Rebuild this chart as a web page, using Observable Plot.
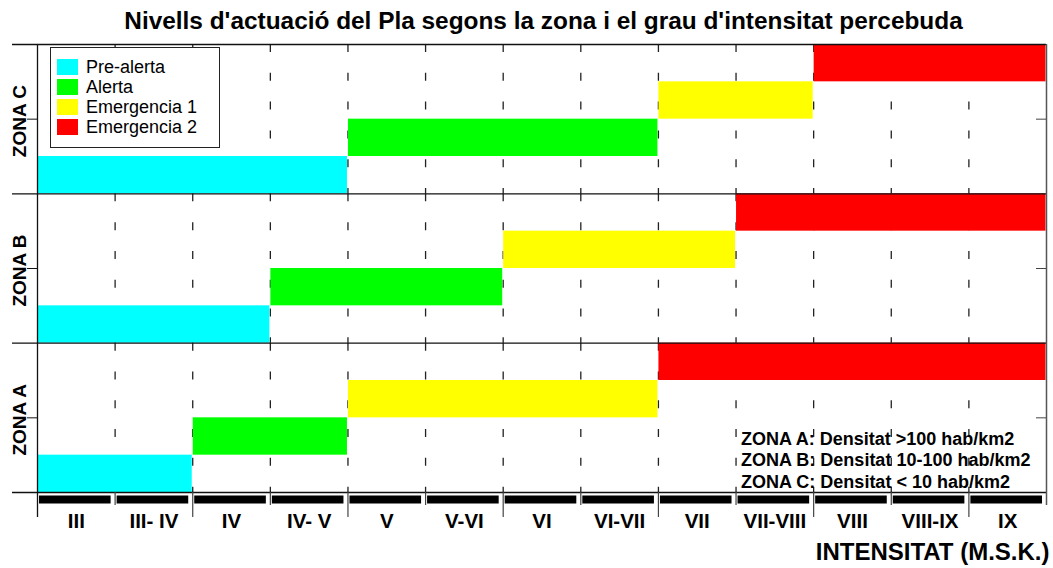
<!DOCTYPE html>
<html>
<head>
<meta charset="utf-8">
<script src="https://cdn.jsdelivr.net/npm/d3@7"></script>
<script src="https://cdn.jsdelivr.net/npm/@observablehq/plot@0.6"></script>
<style>
  html, body { margin: 0; padding: 0; background: #fff; }
  body { width: 1053px; height: 568px; position: relative; overflow: hidden; font-family: "Liberation Sans", Arial, sans-serif; }
  #title { height: 36px; box-sizing: border-box; padding-top: 6px; line-height: 30px; font-size: 24.4px; font-weight: bold; text-align: center; padding-left: 34px; color: #000; white-space: nowrap; }
  #legend { position: absolute; left: 50px; top: 47px; width: 170px; height: 101px; box-sizing: border-box; border: 1px solid #222; background: #fff; padding: 9px 0 0 6px; }
  .row { display: flex; align-items: center; height: 20px; font-size: 18px; color: #000; }
  .sw { width: 21px; height: 16px; margin-right: 8px; }
</style>
</head>
<body>
<div id="title">Nivells d'actuació del Pla segons la zona i el grau d'intensitat percebuda</div>
<div id="chart"></div>
<div id="legend"></div>
<script>
// ---- data ----
const intensities = ["III","III- IV","IV","IV- V","V","V-VI","VI","VI-VII","VII","VII-VIII","VIII","VIII-IX","IX"];
const zones = ["ZONA A","ZONA B","ZONA C"];
const levels = ["Pre-alerta","Alerta","Emergencia 1","Emergencia 2"];
const levelColors = ["#00ffff","#00ff00","#ffff00","#ff0000"];
// intensity at which each level starts, per zone
const zoneAStarts = ["III","IV","V","VII"];
const zoneBStarts = ["III","IV- V","VI","VII-VIII"];
const zoneCStarts = ["III","V","VII","VIII"];
const zoneStarts = [zoneAStarts, zoneBStarts, zoneCStarts];
const densityNotes = ["ZONA A: Densitat >100 hab/km2","ZONA B: Densitat 10-100 hab/km2","ZONA C: Densitat < 10 hab/km2"];
const xTitle = "INTENSITAT (M.S.K.)";

// ---- derived tables ----
const nCols = intensities.length;
const nLev = levels.length;
const bars = [];
zones.forEach((z, zi) => {
  const s = zoneStarts[zi].map(l => intensities.indexOf(l));
  levels.forEach((lev, k) => {
    bars.push({zone: z, level: lev, x1: s[k], x2: k + 1 < nLev ? s[k + 1] : nCols, y1: zi * nLev + k, y2: zi * nLev + k + 1});
  });
});
const boundaries = d3.range(0, nCols + 1);
const grid = [];
zones.forEach((z, zi) => {
  boundaries.slice(1, -1).forEach(b => grid.push({b, top: (zi + 1) * nLev, bottom: zi * nLev}));
});
const zoneEdges = d3.range(0, zones.length + 1).map(i => i * nLev);
const zoneMids = zones.map((z, i) => i * nLev + nLev / 2);

const font = "Liberation Sans, Arial, sans-serif";
const plot = Plot.plot({
  width: 1053,
  height: 532,
  marginTop: 8,
  marginBottom: 76,
  marginLeft: 37,
  marginRight: 7,
  style: {fontFamily: font, background: "transparent", overflow: "visible"},
  x: {domain: [0, nCols], axis: null},
  y: {domain: [0, zones.length * nLev], axis: null},
  color: {domain: levels, range: levelColors},
  marks: [
    Plot.ruleX(grid, {x: "b", y1: "top", y2: "bottom", stroke: "#222", strokeWidth: 1.3, strokeDasharray: "8,20.8"}),
    Plot.rect(bars, {x1: "x1", x2: "x2", y1: "y1", y2: "y2", fill: "level", insetLeft: 0.5, insetRight: 0.5}),
    Plot.ruleY(zoneEdges, {stroke: "#111", strokeWidth: 1.3, insetLeft: -25}),
    Plot.ruleX([0], {stroke: "#111", strokeWidth: 1.3, insetBottom: -25}),
    Plot.ruleX([nCols], {stroke: "#555", strokeWidth: 1.5, insetBottom: -13}),
    Plot.ruleX(boundaries.filter(b => b > 0 && b < nCols && b % 2 === 0), {y1: () => 0, y2: () => 0, stroke: "#444", strokeWidth: 1.2, insetBottom: -25}),
    Plot.ruleX(boundaries.filter(b => b > 0 && b < nCols && b % 2 === 1), {y1: () => 0, y2: () => 0, stroke: "#444", strokeWidth: 1.2, insetBottom: -13}),
    Plot.ruleY(zoneMids, {x1: () => 0, x2: () => 0, insetLeft: -10, stroke: "#111"}),
    Plot.ruleY(zoneMids, {x1: () => nCols, x2: () => nCols, insetLeft: -10, stroke: "#444"}),
    Plot.ruleY(intensities, {x1: (d, i) => i, x2: (d, i) => i + 1, y: () => 0, dy: 7, strokeWidth: 8, stroke: "#000", insetLeft: 2, insetRight: 4}),
    Plot.text(intensities, {x: (d, i) => i + 0.5, y: () => 0, text: d => d, dy: 29, fontSize: 20.5, fontWeight: "bold", fill: "#000"}),
    Plot.text(zones, {x: () => 0, y: (d, i) => zoneMids[i], text: d => d, rotate: -90, dx: -18, dy: 2, fontSize: 19, fontWeight: "bold", fill: "#000"}),
    Plot.text([densityNotes.join("\n")], {x: () => 9, y: () => 0, text: d => d, textAnchor: "start", lineAnchor: "bottom", lineHeight: 1.18, dx: 5, dy: -5, fontSize: 18, fontWeight: "bold", fill: "#000"}),
    Plot.text([xTitle], {x: () => nCols, y: () => 0, text: d => d, textAnchor: "end", dx: 3, dy: 60, fontSize: 24, fontWeight: "bold", fill: "#000"})
  ]
});
document.getElementById("chart").appendChild(plot);

// legend
const lg = document.getElementById("legend");
levels.forEach((l, i) => {
  const row = document.createElement("div");
  row.className = "row";
  const sw = document.createElement("div");
  sw.className = "sw";
  sw.style.background = levelColors[i];
  const t = document.createElement("span");
  t.textContent = l;
  row.appendChild(sw); row.appendChild(t);
  lg.appendChild(row);
});
</script>
</body>
</html>
